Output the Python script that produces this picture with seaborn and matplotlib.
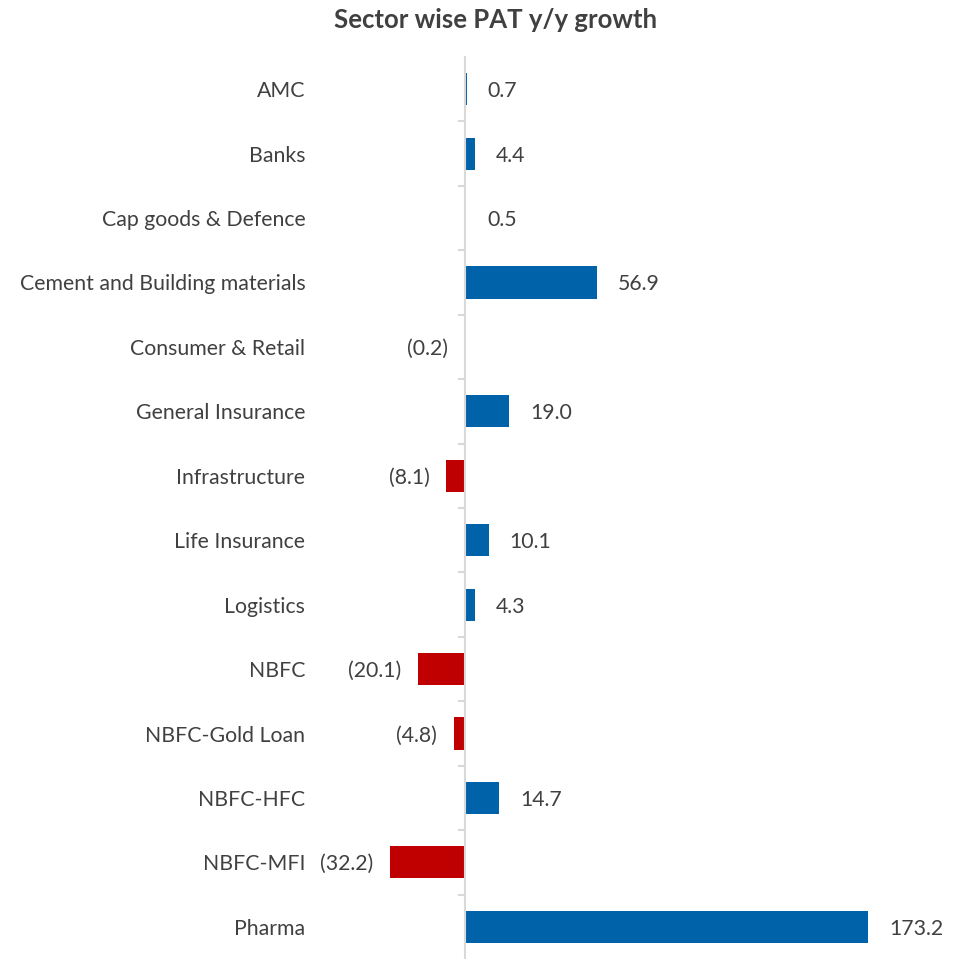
import matplotlib
matplotlib.use("Agg")
import matplotlib.pyplot as plt
import seaborn as sns
import pandas as pd

sectors = [
    "AMC", "Banks", "Cap goods & Defence", "Cement and Building materials",
    "Consumer & Retail", "General Insurance", "Infrastructure", "Life Insurance",
    "Logistics", "NBFC", "NBFC-Gold Loan", "NBFC-HFC", "NBFC-MFI", "Pharma",
]
growth = [0.7, 4.4, 0.5, 56.9, -0.2, 19.0, -8.1, 10.1, 4.3, -20.1, -4.8, 14.7, -32.2, 173.2]

BLUE = "#0063AA"
RED = "#C00000"
TEXT = "#404040"
GRID = "#D9D9D9"
FS = 15.3

df = pd.DataFrame({"sector": sectors, "growth": growth})
df["sign"] = ["pos" if v >= 0 else "neg" for v in growth]

sns.set_theme(style="white")
plt.rcParams["font.family"] = ["Lato", "DejaVu Sans"]

fig = plt.figure(figsize=(9.66, 9.59), dpi=100)
ax = fig.add_axes([315 / 966, 0.0, (955 - 315) / 966, (959 - 57) / 959])

sns.barplot(
    data=df, x="growth", y="sector", hue="sign",
    palette={"pos": BLUE, "neg": RED}, orient="h", width=0.5,
    dodge=False, legend=False, ax=ax, saturation=1, linewidth=0,
)

ax.set_xlim(-64.5, 210.6)
ax.set_ylim(len(sectors) - 0.5, -0.5)
ax.set_xlabel("")
ax.set_ylabel("")
ax.set_xticks([])

for s in ["top", "right", "bottom"]:
    ax.spines[s].set_visible(False)
ax.spines["left"].set_position(("data", 0))
ax.spines["left"].set_color(GRID)
ax.spines["left"].set_linewidth(1.5)

ax.set_yticks(range(len(sectors)))
ax.set_yticklabels(sectors)
ax.set_yticks([i + 0.5 for i in range(len(sectors) - 1)], minor=True)
ax.tick_params(axis="y", which="major", length=0, pad=115,
               labelsize=FS, labelcolor=TEXT)
ax.tick_params(axis="y", which="minor", length=5, width=1.5,
               color=GRID, direction="out", left=True)

for i, v in enumerate(growth):
    txt = f"{v:.1f}" if v >= 0 else f"({abs(v):.1f})"
    if v >= 0:
        ax.annotate(txt, (v, i), xytext=(15, 0), textcoords="offset points",
                    ha="left", va="center_baseline", fontsize=FS, color=TEXT)
    else:
        ax.annotate(txt, (v, i), xytext=(-12, 0), textcoords="offset points",
                    ha="right", va="center_baseline", fontsize=FS, color=TEXT)

fig.text(496 / 966, 1 - 20 / 959, "Sector wise PAT y/y growth",
         ha="center", va="center", fontsize=18.5, fontweight="bold", color=TEXT)

fig.savefig("out.png", dpi=100)
